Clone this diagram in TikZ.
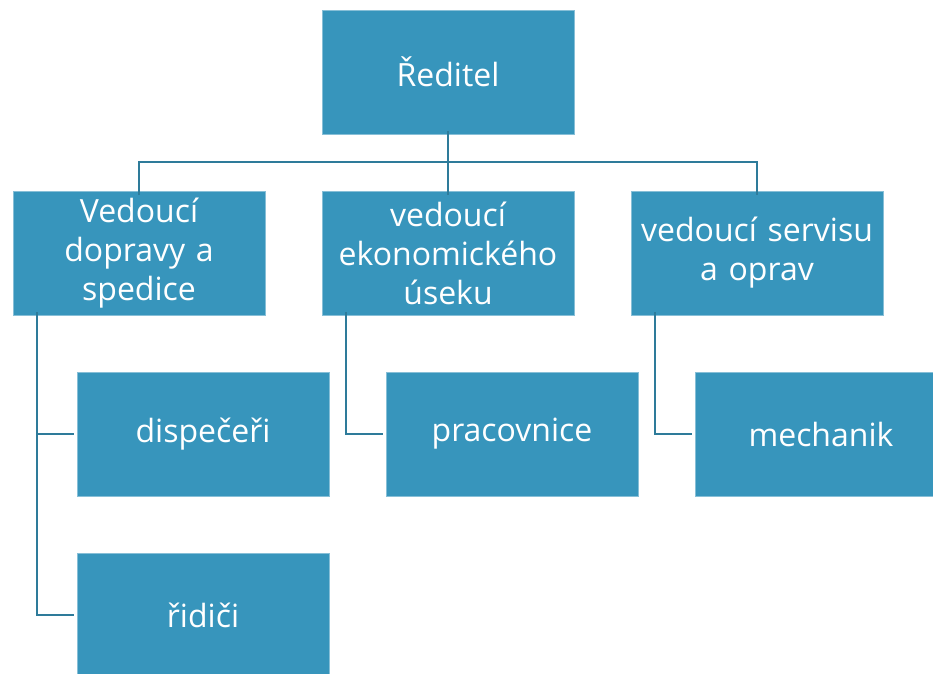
\documentclass[tikz,border=0pt]{standalone}
\usepackage{fontspec}
\setmainfont{Open Sans}
\definecolor{boxfill}{HTML}{3795BC}
\definecolor{linecol}{HTML}{2E7B9A}
\begin{document}
\begin{tikzpicture}[x=1pt,y=-1pt,
  box/.style={draw=boxfill!60!white, line width=0.6pt, fill=boxfill, minimum width=252pt, minimum height=124pt,
    inner sep=0pt, text=white, font=\fontsize{32}{39}\selectfont, align=center, text width=250pt},
  conn/.style={draw=linecol, line width=2.6pt}]
\useasboundingbox (0,0) rectangle (933,673);
\clip (0,0) rectangle (933,673);
\node[box] (dir) at (448,72) {Ředitel};
\node[box] (dop) at (139,253) {Vedoucí\\dopravy a\\spedice};
\node[box] (eko) at (448,253) {vedoucí\\ekonomického\\úseku};
\node[box] (ser) at (757,253) {vedoucí servisu\\a oprav};
\node[box] (dis) at (203,434) {dispečeři};
\node[box] (rid) at (203,615) {řidiči};
\node[box] (pra) at (512,434) {pracovnice};
\node[box] (mec) at (821,434) {mechanik};
\coordinate (bar) at (448,162);
\draw[conn] ([yshift=3pt]dir.south) -- ([yshift=-4pt]eko.north);
\draw[conn] ([yshift=-4pt]dop.north) |- (bar) -| ([yshift=-4pt]ser.north);
\draw[conn] ([xshift=-102pt,yshift=3pt]dop.south) |- ([xshift=-3pt]dis.west);
\draw[conn] ([xshift=-102pt,yshift=3pt]dop.south) |- ([xshift=-3pt]rid.west);
\draw[conn] ([xshift=-102pt,yshift=3pt]eko.south) |- ([xshift=-3pt]pra.west);
\draw[conn] ([xshift=-102pt,yshift=3pt]ser.south) |- ([xshift=-3pt]mec.west);
\end{tikzpicture}
\end{document}
